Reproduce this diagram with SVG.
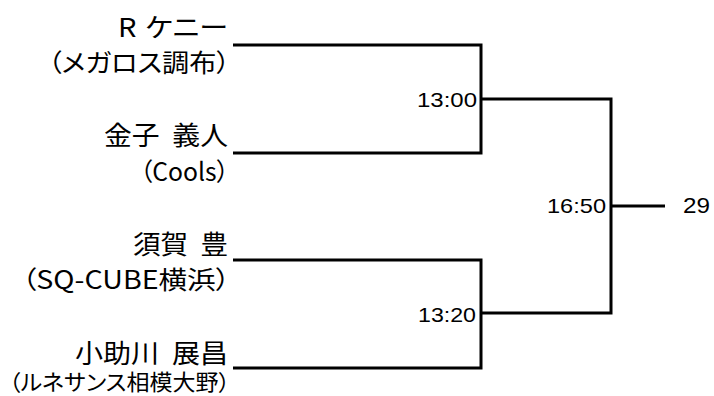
<svg xmlns="http://www.w3.org/2000/svg" width="714" height="396" viewBox="0 0 714 396">
<style>
.name{font-family:"Noto Sans CJK JP",sans-serif;font-size:26px;fill:#000;text-anchor:end;font-feature-settings:"palt";word-spacing:6px;}
.club{font-family:"Noto Sans CJK JP",sans-serif;font-size:25px;fill:#000;text-anchor:end;font-feature-settings:"palt";}
.time{font-family:"Liberation Sans",sans-serif;font-size:21px;fill:#000;text-anchor:end;}
.line{stroke:#000;stroke-width:3;fill:none;stroke-linejoin:miter;}
</style>
<rect width="714" height="396" fill="#fff"/>
<g id="connectors" class="line">
<path d="M233 45H481V153H233"/>
<path d="M233 260H481V368H233"/>
<path d="M481 99H611V313H481"/>
<path d="M611 206H665"/>
</g>
<g id="player1">
<text class="name" x="228" y="37" style="word-spacing:2px" textLength="110" lengthAdjust="spacingAndGlyphs">R ケニー</text>
<text class="club" x="230" y="72" textLength="182" lengthAdjust="spacingAndGlyphs">（メガロス調布）</text>
</g>
<g id="player2">
<text class="name" x="228" y="144.5" textLength="124" lengthAdjust="spacingAndGlyphs">金子 義人</text>
<text class="club" x="229" y="181" textLength="89" lengthAdjust="spacingAndGlyphs">（Cools）</text>
</g>
<g id="player3">
<text class="name" x="228" y="253.5" textLength="95" lengthAdjust="spacingAndGlyphs">須賀 豊</text>
<text class="club" x="230" y="289" textLength="208" lengthAdjust="spacingAndGlyphs">（SQ-CUBE横浜）</text>
</g>
<g id="player4">
<text class="name" x="228" y="363" textLength="153" lengthAdjust="spacingAndGlyphs">小助川 展昌</text>
<text class="club" x="230" y="390" style="font-size:22px" textLength="221" lengthAdjust="spacingAndGlyphs">（ルネサンス相模大野）</text>
</g>
<g id="match1">
<text class="time" x="477" y="107" textLength="60" lengthAdjust="spacingAndGlyphs">13:00</text>
</g>
<g id="match2">
<text class="time" x="476" y="322" textLength="58" lengthAdjust="spacingAndGlyphs">13:20</text>
</g>
<g id="final">
<text class="time" x="606" y="213" textLength="59" lengthAdjust="spacingAndGlyphs">16:50</text>
</g>
<g id="result">
<text class="time" x="683" y="213" style="text-anchor:start;font-size:22px" textLength="27" lengthAdjust="spacingAndGlyphs">29</text>
</g>
</svg>
